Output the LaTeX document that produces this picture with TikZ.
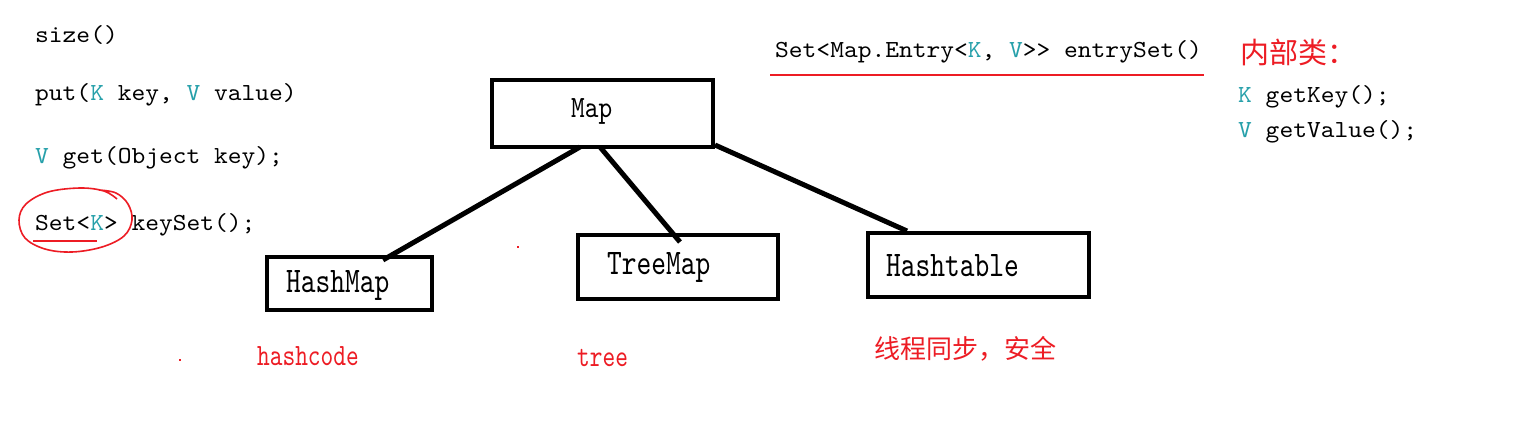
\documentclass[tikz,border=0pt]{standalone}
\usepackage{fontspec}
\usepackage{xcolor}
\newfontfamily\codefont[FakeStretch=1.07]{lmmono10-regular.otf}
\newfontfamily\boxfont[FakeStretch=0.78]{lmmono10-regular.otf}
\newfontfamily\lblfont[FakeStretch=0.84]{lmmono10-regular.otf}
\newfontfamily\redfont[FakeStretch=0.78]{lmmono10-regular.otf}
\newfontfamily\cjk{Noto Sans CJK SC}
\definecolor{rd}{RGB}{237,28,36}
\definecolor{tl}{RGB}{38,160,170}
\begin{document}
\begin{tikzpicture}[x=1pt,y=-1pt,
  code/.style={anchor=base west, inner sep=0pt, font=\codefont\fontsize{24.5}{28}\selectfont},
  box/.style={draw, line width=4pt, rectangle, inner sep=0pt, outer sep=0pt},
  boxlbl/.style={anchor=base west, inner sep=0pt, font=\boxfont\fontsize{36}{40}\selectfont},
  maplbl/.style={anchor=base west, inner sep=0pt, font=\lblfont\fontsize{31}{34}\selectfont},
  redlbl/.style={anchor=base west, inner sep=0pt, text=rd, font=\redfont\fontsize{31}{34}\selectfont},
  cjklbl/.style={anchor=base west, inner sep=0pt, text=rd},
  link/.style={line width=5pt},
  redline/.style={draw=rd, line width=2pt},
]
\fill[white] (0,0) rectangle (1524,442);
\useasboundingbox (0,0) rectangle (1524,442);

% left code lines
\node[code] (t1) at (35,42) {size()};
\node[code] (t2) at (35,100) {put(\textcolor{tl}{K} key, \textcolor{tl}{V} value)};
\node[code] (t3) at (35,163) {\textcolor{tl}{V} get(Object key);};
\node[code] (t4) at (35,230) {Set<\textcolor{tl}{K}> keySet();};
\draw[redline] ([xshift=-2pt,yshift=-11pt]t4.base west) -- ([xshift=62pt,yshift=-11pt]t4.base west);
\draw[rd, line width=1.6pt] plot[smooth, tension=0.6] coordinates {
  (117,199) (104,191) (80,188) (48,192) (26,204) (19,220) (25,238) (45,249)
  (72,252) (102,247) (124,236) (132,220) (128,204) (116,193) (99,190)};

% top right
\node[code] (es) at (775,57) {Set<Map.Entry<\textcolor{tl}{K}, \textcolor{tl}{V}>\kern0pt> entrySet()};
\draw[redline] ([xshift=-5pt,yshift=-18pt]es.base west) -- ([xshift=2pt,yshift=-18pt]es.base east);
\node[cjklbl, font=\cjk\fontsize{29}{32}\selectfont] (nb) at (1240,63) {内部类：};
\node[code] (gk) at (1238,102) {\textcolor{tl}{K} getKey();};
\node[code] (gv) at (1238,137) {\textcolor{tl}{V} getValue();};

% boxes
\node[box, minimum width=221pt, minimum height=67pt] (map) at (602.5,113.5) {};
\node[box, minimum width=165pt, minimum height=53pt] (hm) at (349.5,283.5) {};
\node[box, minimum width=200pt, minimum height=64pt] (tm) at (678,267) {};
\node[box, minimum width=221pt, minimum height=64pt] (ht) at (978.5,265) {};
\node[maplbl] (mapt) at (571,117) {Map};
\node[boxlbl] (hmt) at (286,292) {HashMap};
\node[boxlbl] (tmt) at (607,274) {TreeMap};
\node[boxlbl] (htt) at (886,276) {Hashtable};

% links
\draw[link] ([xshift=-22.5pt]map.south) -- ([xshift=33.5pt,yshift=-3pt]hm.north);
\draw[link] ([xshift=-2.5pt]map.south) -- ([xshift=2pt,yshift=-7pt]tm.north);
\draw[link] ([xshift=2pt,yshift=2pt]map.south east) -- ([xshift=39pt,yshift=2pt]ht.north west);

% red labels
\node[redlbl] (hc) at (257,365) {hashcode};
\node[redlbl] (tr) at (577,366) {tree};
\node[cjklbl, font=\cjk\fontsize{26}{30}\selectfont] (xc) at (874,358) {线程同步，安全};

% stray red dots
\fill[rd] (179,359) rectangle (181,361);
\fill[rd] (517,246) rectangle (519,248);
\end{tikzpicture}
\end{document}
